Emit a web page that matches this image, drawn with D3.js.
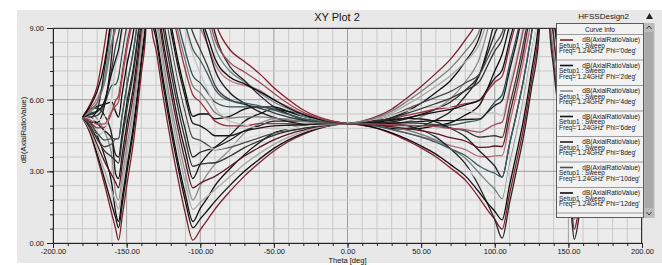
<!DOCTYPE html>
<html>
<head>
<meta charset="utf-8">
<script src="https://cdn.jsdelivr.net/npm/d3@7"></script>
<style>
  html, body { margin: 0; padding: 0; background: #ffffff; }
  svg { display: block; font-family: "Liberation Sans", Arial, sans-serif; }
</style>
</head>
<body>
<div id="chart"></div>
<script>
// theta sweep points (deg) shared by every curve
const thetaDeg = [-180, -175, -170, -165, -160, -157.5, -155.5, -153, -150, -145, -140, -137,
  -135,
  -133, -130, -125, -120, -115, -110, -105, -100, -95, -90, -80, -70, -60, -50, -40, -30, -20, -10,
  0,
  10, 20, 30, 40, 50, 60, 70, 80, 90, 95, 100, 105, 110, 115, 120, 125, 130, 133,
  135,
  137, 140, 145, 150, 152, 154, 156.5, 160, 165, 170, 175, 180];

const phiDeg = [0, 2, 4, 6, 8, 10, 12, 14, 16, 18, 20, 22, 24, 26, 28, 30,
  32, 34, 36, 38, 40, 42, 44, 46, 48, 50];

// dB(AxialRatioValue) per phi cut (values above 9 are off scale)
const ar_phi0 = [5.25, 4.62, 3.6, 2.45, 1.2, 0.6, 0.12, 1.1, 2.36, 4.4, 7.1, 8.9, 20,
  9.0, 8.07, 6.05, 4.25, 2.65, 1.2, 0.12, 0.55, 0.98, 1.42, 2.15, 2.8, 3.35, 3.85, 4.25, 4.55, 4.78, 4.93, 5,
  5.1, 5.3, 5.6, 6.05, 6.55, 7.1, 7.7, 8.5, 9.6, 10.8, 12, 14, 14, 14, 14, 14, 14, 14, 20,
  14, 14, 14, 14, 14, 14, 13, 11, 8.1, 6.65, 5.83, 5.25];
const ar_phi2 = [5.25, 5.07, 4.5, 3.65, 2.45, 1.3, 0.9, 1.9, 3.1, 5.1, 7.75, 9.6, 20,
  9.8, 8.8, 6.8, 5.0, 3.4, 2.0, 0.9, 1.45, 1.9, 2.4, 3.1, 3.7, 4.2, 4.6, 4.8, 4.9, 4.98, 5.0, 5,
  5.03, 5.1, 5.25, 5.5, 5.85, 6.3, 6.8, 7.6, 8.7, 9.9, 11.1, 14, 14, 14, 14, 14, 14, 14, 20,
  14, 14, 14, 14, 14, 14, 12.3, 9.78, 6.93, 5.77, 5.37, 5.25];
const ar_phi4 = [5.25, 5.43, 5.2, 4.66, 3.6, 2.1, 1.8, 2.8, 4.0, 5.9, 8.5, 10.3, 20,
  10.7, 9.6, 7.6, 5.8, 4.3, 2.9, 1.8, 2.4, 2.9, 3.3, 3.9, 4.6, 5.0, 5.2, 5.2, 5.2, 5.1, 5.05, 5,
  4.98, 4.95, 4.96, 5.07, 5.28, 5.6, 6.04, 6.75, 7.8, 8.9, 10.2, 11.3, 12.4, 14, 14, 14, 14, 14, 20,
  14, 14, 14, 14, 14, 14, 11.4, 8.64, 5.95, 5.05, 5.01, 5.25];
const ar_phi6 = [5.25, 5.64, 5.65, 5.34, 4.5, 2.9, 2.7, 3.7, 4.9, 6.7, 9.3, 11, 20,
  11.6, 10.5, 8.4, 6.7, 5.1, 3.8, 2.7, 3.3, 3.7, 4.0, 4.5, 5.1, 5.4, 5.6, 5.5, 5.4, 5.2, 5.09, 5,
  4.94, 4.86, 4.79, 4.8, 4.9, 5.15, 5.5, 6.15, 7.1, 8.1, 9.3, 10.4, 11.5, 14, 14, 14, 14, 14, 20,
  14, 14, 14, 14, 14, 11.2, 10.6, 7.77, 5.28, 4.6, 4.8, 5.25];
const ar_phi8 = [5.25, 5.27, 5.0, 4.7, 4.36, 3.7, 3.6, 4.6, 5.8, 7.5, 10, 12, 20,
  12.5, 11.3, 9.3, 7.6, 6.0, 4.7, 3.6, 3.8, 3.9, 4.0, 4.3, 4.7, 4.9, 5.1, 5.1, 5.1, 5.06, 5.03, 5,
  5.0, 5.02, 5.07, 5.2, 5.38, 5.6, 5.9, 6.4, 7.1, 7.9, 8.75, 9.5, 10.7, 11.8, 14, 14, 14, 14, 20,
  14, 14, 14, 14, 14, 10.3, 9.7, 7.91, 5.91, 5.23, 5.17, 5.25];
const ar_phi10 = [5.25, 4.89, 4.37, 4.03, 4.15, 4.36, 4.37, 5.36, 6.5, 8.2, 10.7, 13, 20,
  13.3, 12.0, 10.0, 8.3, 6.7, 5.4, 4.4, 4.3, 4.1, 3.9, 4.0, 4.2, 4.4, 4.6, 4.7, 4.8, 4.9, 4.97, 5,
  5.06, 5.18, 5.35, 5.6, 5.86, 6.1, 6.35, 6.7, 7.1, 7.7, 8.3, 8.8, 9.9, 11.1, 14, 14, 14, 14, 20,
  14, 14, 14, 10.8, 10.1, 9.4, 8.97, 8.11, 6.57, 5.88, 5.55, 5.25];
const ar_phi12 = [5.25, 5.59, 5.72, 5.81, 5.9, 5.5, 5.27, 6.26, 7.4, 9.0, 12, 14, 20,
  14, 12.8, 10.8, 9.2, 7.6, 6.3, 5.3, 5.4, 5.4, 5.2, 5.3, 5.6, 5.7, 5.7, 5.5, 5.3, 5.2, 5.08, 5,
  4.96, 4.88, 4.8, 4.77, 4.8, 4.9, 5.04, 5.36, 5.8, 6.45, 7.2, 7.9, 9.1, 10.2, 11.7, 14, 14, 14, 20,
  14, 14, 11.5, 9.9, 9.2, 8.46, 8.1, 6.39, 4.83, 4.53, 4.85, 5.25];
const ar_phi14 = [5.25, 5.07, 4.82, 4.84, 5.5, 5.96, 6.17, 7.16, 8.3, 9.85, 12.5, 14, 20,
  14, 14, 11.7, 10.0, 8.5, 7.2, 6.2, 5.9, 5.5, 5.1, 4.9, 4.9, 5.0, 5.0, 5.0, 4.95, 4.97, 4.99, 5,
  5.04, 5.11, 5.2, 5.34, 5.47, 5.6, 5.68, 5.83, 5.98, 6.35, 6.73, 6.98, 8.2, 9.4, 10.9, 14, 14, 14, 20,
  14, 14, 10.7, 9.03, 8.25, 7.49, 7.27, 6.79, 5.77, 5.43, 5.37, 5.25];
const ar_phi16 = [5.25, 5.43, 5.52, 5.82, 6.6, 6.64, 6.95, 7.94, 9.06, 10.5, 13, 14, 20,
  14, 14, 12.4, 10.7, 9.2, 8.0, 7.0, 6.7, 6.3, 5.9, 5.7, 5.7, 5.7, 5.6, 5.4, 5.2, 5.13, 5.05, 5,
  4.98, 4.95, 4.92, 4.91, 4.91, 4.93, 4.94, 5.05, 5.17, 5.5, 5.9, 6.2, 7.46, 8.7, 10.2, 14, 14, 14, 20,
  14, 12.3, 10.0, 8.27, 7.45, 6.66, 6.53, 5.73, 4.82, 4.73, 5.01, 5.25];
const ar_phi18 = [5.25, 4.86, 4.53, 4.74, 6.1, 7.44, 7.85, 8.84, 9.94, 11.4, 14, 14, 20,
  14, 14, 13.2, 11.6, 10.1, 8.9, 7.9, 7.1, 6.4, 5.7, 5.1, 4.95, 4.8, 4.8, 4.8, 4.8, 4.88, 4.96, 5,
  5.07, 5.2, 5.34, 5.53, 5.65, 5.7, 5.66, 5.6, 5.37, 5.44, 5.46, 5.32, 6.6, 7.86, 9.36, 11.1, 14, 14, 20,
  14, 11.6, 9.22, 7.38, 6.52, 5.69, 5.68, 6.21, 5.87, 5.72, 5.58, 5.25];
const ar_phi20 = [5.25, 5.27, 5.34, 5.86, 7.33, 8.24, 8.75, 9.74, 10.8, 12.2, 14, 14, 20,
  14, 14, 14, 12.5, 10.9, 9.8, 8.8, 8.1, 7.4, 6.6, 6.0, 5.8, 5.65, 5.45, 5.27, 5.13, 5.06, 5.02, 5,
  5.01, 5.02, 5.02, 5.03, 5.01, 4.95, 4.82, 4.69, 4.43, 4.46, 4.49, 4.42, 5.73, 7.03, 8.53, 10.3, 14, 14, 20,
  13, 10.8, 8.43, 6.49, 5.59, 4.72, 4.83, 4.99, 4.78, 4.91, 5.17, 5.25];
const ar_phi22 = [5.25, 5.62, 6.04, 6.84, 8.42, 8.92, 9.52, 10.5, 11.6, 14, 14, 14, 20,
  14, 14, 14, 13.2, 11.7, 10.5, 9.5, 9.0, 8.3, 7.5, 6.8, 6.6, 6.4, 6.0, 5.7, 5.4, 5.21, 5.07, 5,
  4.96, 4.87, 4.74, 4.6, 4.45, 4.29, 4.08, 3.91, 3.62, 3.61, 3.65, 3.66, 4.99, 6.31, 7.81, 9.6, 14, 14, 20,
  12.2, 10.2, 7.75, 5.73, 4.79, 3.89, 4.09, 3.93, 3.83, 4.21, 4.81, 5.25];
const ar_phi24 = [5.25, 5.06, 5.05, 5.76, 7.93, 9.72, 10.4, 11.4, 14, 14, 14, 14, 20,
  14, 14, 14, 14, 14, 11.4, 10.4, 9.4, 8.3, 7.25, 6.3, 5.85, 5.5, 5.26, 5.08, 4.98, 4.96, 4.98, 5,
  5.05, 5.12, 5.17, 5.22, 5.19, 5.07, 4.8, 4.45, 3.83, 3.54, 3.22, 2.76, 4.13, 5.48, 6.98, 8.8, 10.9, 14, 20,
  11.4, 9.44, 6.96, 4.84, 3.86, 2.92, 3.24, 4.41, 4.88, 5.2, 5.39, 5.25];
const ar_phi26 = [5.25, 5.46, 5.86, 6.88, 9.17, 10.5, 11.3, 14, 14, 14, 14, 14, 20,
  14, 14, 14, 14, 14, 12.3, 11.3, 10.4, 9.3, 8.2, 7.2, 6.75, 6.3, 5.9, 5.6, 5.3, 5.14, 5.04, 5,
  4.99, 4.94, 4.85, 4.73, 4.55, 4.31, 3.95, 3.55, 2.89, 2.56, 2.25, 1.86, 3.26, 4.65, 6.15, 8.0, 10.1, 14, 20,
  10.7, 8.69, 6.17, 3.95, 2.93, 1.95, 2.39, 3.2, 3.79, 4.39, 4.98, 5.25];
const ar_phi28 = [5.25, 5.79, 6.56, 8.3, 10.5, 11.7, 14, 14, 14, 14, 14, 14, 20,
  14, 14, 14, 14, 14, 14, 14, 11.7, 10.5, 9.3, 8.1, 7.6, 7.1, 6.5, 6.0, 5.57, 5.28, 5.1, 5,
  4.94, 4.8, 4.58, 4.3, 3.98, 3.61, 3.14, 2.63, 1.84, 1.39, 0.99, 0.58, 2.03, 3.46, 4.96, 6.85, 9.0, 12, 20,
  9.6, 7.62, 5.04, 2.68, 1.6, 0.57, 1.17, 1.88, 2.77, 3.69, 4.64, 5.25];
const ar_phi30 = [5.25, 5.25, 5.57, 7.3, 9.76, 12, 14, 14, 14, 14, 14, 14, 20,
  14, 14, 14, 14, 14, 14, 14, 11.7, 10.2, 8.8, 7.4, 6.8, 6.2, 5.7, 5.4, 5.15, 5.05, 5.01, 5,
  5.02, 5.03, 5.0, 4.92, 4.73, 4.43, 3.94, 3.32, 2.29, 1.65, 0.98, 0.2, 1.66, 3.1, 4.6, 6.5, 8.66, 12, 20,
  9.3, 7.3, 4.7, 2.3, 1.2, 0.15, 0.8, 2.62, 3.89, 4.68, 5.19, 5.25];
const ar_phi32 = [5.25, 4.67, 3.72, 2.68, 1.58, 1.06, 0.64, 1.62, 2.87, 4.86, 7.54, 9.34, 20,
  9.52, 8.55, 6.53, 4.74, 3.14, 1.71, 0.64, 1.01, 1.37, 1.74, 2.4, 3.0, 3.5, 3.96, 4.32, 4.59, 4.8, 4.94, 5,
  5.02, 5.07, 5.13, 5.24, 5.36, 5.48, 5.59, 5.78, 6.0, 6.44, 6.89, 7.24, 8.45, 9.65, 11.2, 14, 14, 14, 20,
  14, 14, 12.6, 11.2, 10.5, 9.85, 9.34, 8.18, 6.45, 5.74, 5.46, 5.25];
const ar_phi34 = [5.25, 4.74, 3.9, 3.02, 2.16, 1.74, 1.41, 2.39, 3.62, 5.56, 8.19, 10.0, 20,
  10.3, 9.26, 7.25, 5.48, 3.89, 2.48, 1.41, 1.7, 1.96, 2.23, 2.77, 3.3, 3.74, 4.13, 4.43, 4.66, 4.83, 4.95, 5,
  5.07, 5.22, 5.44, 5.78, 6.15, 6.56, 7.0, 7.59, 8.4, 9.35, 10.3, 11.1, 12.2, 14, 14, 14, 14, 14, 20,
  13, 11.05, 8.66, 6.75, 5.86, 5.0, 5.07, 4.89, 4.53, 4.67, 5.03, 5.25];
const ar_phi36 = [5.25, 4.83, 4.12, 3.41, 2.83, 2.54, 2.31, 3.29, 4.51, 6.37, 8.95, 10.8, 20,
  11.2, 10.1, 8.08, 6.33, 4.75, 3.38, 2.31, 2.5, 2.65, 2.79, 3.2, 3.64, 4.0, 4.32, 4.56, 4.73, 4.87, 4.96, 5,
  4.98, 4.94, 4.87, 4.79, 4.7, 4.58, 4.41, 4.27, 4.0, 4.01, 4.06, 4.04, 5.36, 6.67, 8.17, 9.95, 12, 14, 20,
  10.6, 8.58, 6.06, 3.82, 2.8, 1.81, 2.26, 2.73, 3.26, 3.97, 4.75, 5.25];
const ar_phi38 = [5.25, 4.92, 4.36, 3.86, 3.6, 3.45, 3.34, 4.33, 5.52, 7.3, 9.83, 11.7, 20,
  12.1, 10.9, 8.92, 7.19, 5.61, 4.27, 3.21, 3.3, 3.34, 3.36, 3.63, 3.99, 4.27, 4.51, 4.68, 4.8, 4.9, 4.97, 5,
  5.04, 5.12, 5.23, 5.42, 5.62, 5.84, 6.06, 6.38, 6.8, 7.41, 8.03, 8.52, 9.68, 10.8, 12.3, 14, 14, 14, 20,
  14, 12.7, 10.35, 8.65, 7.85, 7.08, 6.9, 6.3, 5.35, 5.13, 5.22, 5.25];
const ar_phi40 = [5.25, 5.22, 5.13, 5.28, 6.0, 6.3, 6.56, 7.55, 8.68, 10.2, 12.5, 14, 20,
  13, 11.8, 9.75, 8.05, 6.48, 5.17, 4.11, 4.1, 4.02, 3.92, 4.06, 4.33, 4.54, 4.7, 4.81, 4.88, 4.94, 4.98, 5,
  4.95, 4.84, 4.68, 4.47, 4.22, 3.93, 3.56, 3.18, 2.56, 2.26, 2.01, 1.74, 3.14, 4.53, 6.03, 7.88, 10.0, 12, 20,
  14, 14, 14, 14, 14, 12.6, 11.8, 10.1, 7.55, 6.35, 5.71, 5.25];
const ar_phi42 = [5.25, 5.37, 5.49, 5.95, 7.15, 7.67, 8.11, 9.1, 10.2, 11.6, 14, 14, 20,
  14, 12.6, 10.6, 8.91, 7.34, 6.06, 5.01, 4.9, 4.71, 4.49, 4.49, 4.68, 4.81, 4.9, 4.93, 4.95, 4.98, 4.99, 5,
  5.01, 5.01, 5.02, 5.06, 5.09, 5.12, 5.12, 5.17, 5.2, 5.47, 5.76, 5.96, 7.21, 8.46, 9.96, 11.7, 14, 14, 20,
  11.7, 9.65, 7.19, 5.09, 4.13, 3.2, 3.48, 3.67, 3.81, 4.27, 4.87, 5.25];
const ar_phi44 = [5.25, 5.53, 5.89, 6.69, 8.4, 9.15, 9.78, 10.8, 11.8, 14, 14, 14, 20,
  14, 14, 12, 10.4, 8.83, 7.6, 6.56, 6.28, 5.89, 5.46, 5.23, 5.28, 5.28, 5.23, 5.15, 5.08, 5.04, 5.02, 5,
  5.09, 5.26, 5.52, 5.91, 6.34, 6.81, 7.32, 8.02, 8.96, 10.0, 11.1, 12, 14, 14, 14, 14, 14, 14, 20,
  9.94, 7.94, 5.38, 3.06, 2.0, 0.98, 1.53, 2.16, 2.93, 3.78, 4.67, 5.25];
const ar_phi46 = [5.25, 5.02, 4.61, 4.31, 4.37, 4.36, 4.37, 5.36, 6.53, 8.23, 10.7, 13, 20,
  14, 14, 13.5, 11.9, 10.3, 9.14, 8.11, 7.65, 7.07, 6.43, 5.96, 5.87, 5.74, 5.56, 5.37, 5.2, 5.1, 5.04, 5,
  4.96, 4.88, 4.76, 4.61, 4.43, 4.22, 3.94, 3.66, 3.2, 3.04, 2.92, 2.76, 4.13, 5.48, 6.98, 8.8, 10.9, 14, 20,
  14, 13.7, 11.5, 9.92, 9.18, 8.46, 8.12, 7.24, 5.9, 5.43, 5.34, 5.25];
const ar_phi48 = [5.25, 5.71, 6.35, 7.54, 9.84, 11.9, 14, 14, 14, 14, 14, 14, 20,
  14, 14, 14, 14, 12.3, 11.2, 10.2, 9.48, 8.64, 7.72, 6.95, 6.66, 6.35, 6.0, 5.65, 5.37, 5.19, 5.06, 5,
  4.94, 4.81, 4.61, 4.36, 4.06, 3.72, 3.28, 2.81, 2.08, 1.68, 1.33, 0.97, 2.4, 3.81, 5.31, 7.19, 9.34, 12, 20,
  14, 14, 13.7, 12.5, 11.8, 11.2, 10.6, 9.12, 7.0, 6.04, 5.58, 5.25];
const ar_phi50 = [5.25, 5.16, 4.97, 4.99, 5.52, 5.73, 5.92, 6.9, 8.05, 9.62, 12, 14, 20,
  14, 14, 14, 14, 14, 12.5, 11.5, 10.6, 9.62, 8.53, 7.56, 7.16, 6.74, 6.27, 5.83, 5.47, 5.24, 5.08, 5,
  4.99, 4.98, 4.95, 4.93, 4.91, 4.87, 4.79, 4.75, 4.64, 4.79, 4.96, 5.06, 6.35, 7.62, 9.12, 10.9, 14, 14, 20,
  12.5, 10.5, 8.09, 6.11, 5.19, 4.31, 4.46, 4.42, 4.25, 4.52, 4.97, 5.25];

const curves = [ar_phi0, ar_phi2, ar_phi4, ar_phi6, ar_phi8, ar_phi10, ar_phi12, ar_phi14,
  ar_phi16, ar_phi18, ar_phi20, ar_phi22, ar_phi24, ar_phi26, ar_phi28, ar_phi30,
  ar_phi32, ar_phi34, ar_phi36, ar_phi38, ar_phi40, ar_phi42, ar_phi44, ar_phi46, ar_phi48, ar_phi50];

const curveColors = ["#7d1e2c", "#0f0f0f", "#8c8c8c", "#151515", "#202020", "#4d4d4d", "#0a0a0a", "#9a3040",
  "#2e5050", "#c4c4c4", "#3a3a3a", "#b86878", "#1c1c1c", "#6f8585", "#8b1a2a", "#262626",
  "#111111", "#a8a8a8", "#5a1520", "#303030", "#dedede", "#181818", "#7a7a7a", "#3d5c5c", "#0c0c0c", "#a04858"];

const xTicks = [-200, -150, -100, -50, 0, 50, 100, 150, 200];
const yTicks = [0, 3, 6, 9];
const legendShown = 7;

const W = 662, H = 265;
let margin = {top: 28, right: 20, bottom: 22, left: 53};
let width = W - margin.left - margin.right;   // 589
let height = H - margin.top - margin.bottom;  // 215

const svg = d3.select("#chart")
  .append("svg")
    .attr("width", W)
    .attr("height", H);

// grey panel behind everything
svg.append("rect")
  .attr("x", 17).attr("y", 10)
  .attr("width", W - 17).attr("height", 253)
  .attr("fill", "#e8e8e8");

const g = svg.append("g")
  .attr("transform", "translate(" + margin.left + "," + margin.top + ")");

let x = d3.scaleLinear().domain([-200, 200]).range([0, width]);
let y = d3.scaleLinear().domain([0, 9]).range([height, 0]);

g.append("rect")
  .attr("width", width).attr("height", height)
  .attr("fill", "#ececec");

// grid: minor every 10 deg / 0.6 dB, major on the labelled ticks
const xMinor = d3.range(-200, 201, 10);
const yMinor = d3.range(0, 16).map(i => i * 0.6);

g.append("g").selectAll("line")
  .data(xMinor)
  .enter().append("line")
    .attr("x1", d => x(d)).attr("x2", d => x(d))
    .attr("y1", 0).attr("y2", height)
    .attr("stroke", d => d % 50 === 0 ? "#9d9d9d" : "#c9c9c9")
    .attr("stroke-width", 1);

g.append("g").selectAll("line")
  .data(yMinor)
  .enter().append("line")
    .attr("x1", 0).attr("x2", width)
    .attr("y1", d => y(d)).attr("y2", d => y(d))
    .attr("stroke", (d, i) => i % 5 === 0 ? "#9d9d9d" : "#c9c9c9")
    .attr("stroke-width", 1);

// curves
g.append("clipPath").attr("id", "plotclip")
  .append("rect").attr("width", width).attr("height", height);

const line = d3.line()
  .x((d, i) => x(thetaDeg[i]))
  .y(d => y(d))
  .curve(d3.curveMonotoneX);

g.append("g")
  .attr("clip-path", "url(#plotclip)")
  .selectAll("path")
  .data(curves)
  .enter().append("path")
    .attr("d", d => line(d))
    .attr("fill", "none")
    .attr("stroke", (d, i) => curveColors[i % curveColors.length])
    .attr("stroke-width", 1.3);

// axes
const xAxis = g.append("g")
  .attr("transform", "translate(0," + height + ")")
  .call(d3.axisBottom(x).tickValues(xTicks).tickFormat(d => d.toFixed(2)).tickSize(5).tickSizeOuter(0).tickPadding(1));
const xAxisMinor = g.append("g")
  .attr("transform", "translate(0," + height + ")")
  .call(d3.axisBottom(x).tickValues(xMinor).tickFormat("").tickSize(3).tickSizeOuter(0));
const yAxis = g.append("g")
  .call(d3.axisLeft(y).tickValues(yTicks).tickFormat(d => d.toFixed(2)).tickSize(6).tickSizeOuter(0).tickPadding(3));
const yAxisMinor = g.append("g")
  .call(d3.axisLeft(y).tickValues(yMinor).tickFormat("").tickSize(3).tickSizeOuter(0));

[xAxis, xAxisMinor, yAxis, yAxisMinor].forEach(a => {
  a.attr("font-family", null).attr("font-size", null);
  a.selectAll("path.domain").attr("stroke", "#222");
  a.selectAll(".tick line").attr("stroke", "#222");
  a.selectAll("text").attr("font-size", "7.5px").attr("fill", "#151515");
});

g.append("line").attr("x1", 0).attr("x2", width).attr("y1", 0.5).attr("y2", 0.5)
  .attr("stroke", "#333");
g.append("line").attr("x1", width - 0.5).attr("x2", width - 0.5).attr("y1", 0).attr("y2", height)
  .attr("stroke", "#333");

// titles
svg.append("text")
  .attr("x", 337).attr("y", 21)
  .attr("text-anchor", "middle")
  .attr("font-size", "11px").attr("fill", "#151515")
  .text("XY Plot 2");

svg.append("text")
  .attr("x", 629).attr("y", 19)
  .attr("text-anchor", "end")
  .attr("font-size", "8px").attr("fill", "#151515")
  .text("HFSSDesign2");

svg.append("path")
  .attr("d", "M646,19 L649.5,13 L653,19 Z")
  .attr("fill", "#222");

svg.append("text")
  .attr("x", 347.5).attr("y", 262.5)
  .attr("text-anchor", "middle")
  .attr("font-size", "7.5px").attr("fill", "#151515")
  .text("Theta [deg]");

svg.append("text")
  .attr("transform", "translate(26,130) rotate(-90)")
  .attr("text-anchor", "middle")
  .attr("font-size", "7.5px").attr("fill", "#151515")
  .text("dB(AxialRatioValue)");

// legend ("Curve Info")
const lg = svg.append("g");
lg.append("rect")
  .attr("x", 643.5).attr("y", 23).attr("width", 11).attr("height", 195)
  .attr("fill", "#bcbcbc");
lg.append("rect")
  .attr("x", 644.5).attr("y", 32).attr("width", 9).attr("height", 176)
  .attr("fill", "#a9a9a9");
lg.append("path").attr("d", "M646.5,29 L649,26 L651.5,29").attr("fill", "none").attr("stroke", "#333");
lg.append("path").attr("d", "M646.5,212 L649,215 L651.5,212").attr("fill", "none").attr("stroke", "#333");

lg.append("rect")
  .attr("x", 556.5).attr("y", 23.5).attr("width", 87).attr("height", 194)
  .attr("fill", "#f2f2f2").attr("stroke", "#5c5c5c");

lg.append("text")
  .attr("x", 600).attr("y", 31.5)
  .attr("text-anchor", "middle")
  .attr("font-size", "6.5px").attr("fill", "#151515")
  .text("Curve Info");

const entryH = 25.5, entryTop = 34.5;
const sepY = d3.range(0, legendShown + 1).map(i => entryTop + i * entryH);
lg.selectAll("line.sep")
  .data(sepY)
  .enter().append("line")
    .attr("class", "sep")
    .attr("x1", 557).attr("x2", 643)
    .attr("y1", d => d).attr("y2", d => d)
    .attr("stroke", "#9a9a9a");

const entries = lg.selectAll("g.entry")
  .data(phiDeg.slice(0, legendShown))
  .enter().append("g")
    .attr("class", "entry")
    .attr("transform", (d, i) => "translate(0," + (entryTop + i * entryH) + ")");

entries.append("line")
  .attr("x1", 560).attr("x2", 573)
  .attr("y1", 5.5).attr("y2", 5.5)
  .attr("stroke", (d, i) => curveColors[i])
  .attr("stroke-width", 1.6);
entries.append("text")
  .attr("x", 640).attr("y", 7.8)
  .attr("text-anchor", "end")
  .attr("font-size", "6.5px").attr("fill", "#151515")
  .text("dB(AxialRatioValue)");
entries.append("text")
  .attr("x", 559).attr("y", 13.3)
  .attr("font-size", "6.5px").attr("fill", "#151515")
  .text("Setup1 : Sweep");
entries.append("text")
  .attr("x", 559).attr("y", 18.9)
  .attr("font-size", "6.5px").attr("fill", "#151515")
  .text(d => "Freq='1.24GHz' Phi='" + d + "deg'");
</script>
</body>
</html>
